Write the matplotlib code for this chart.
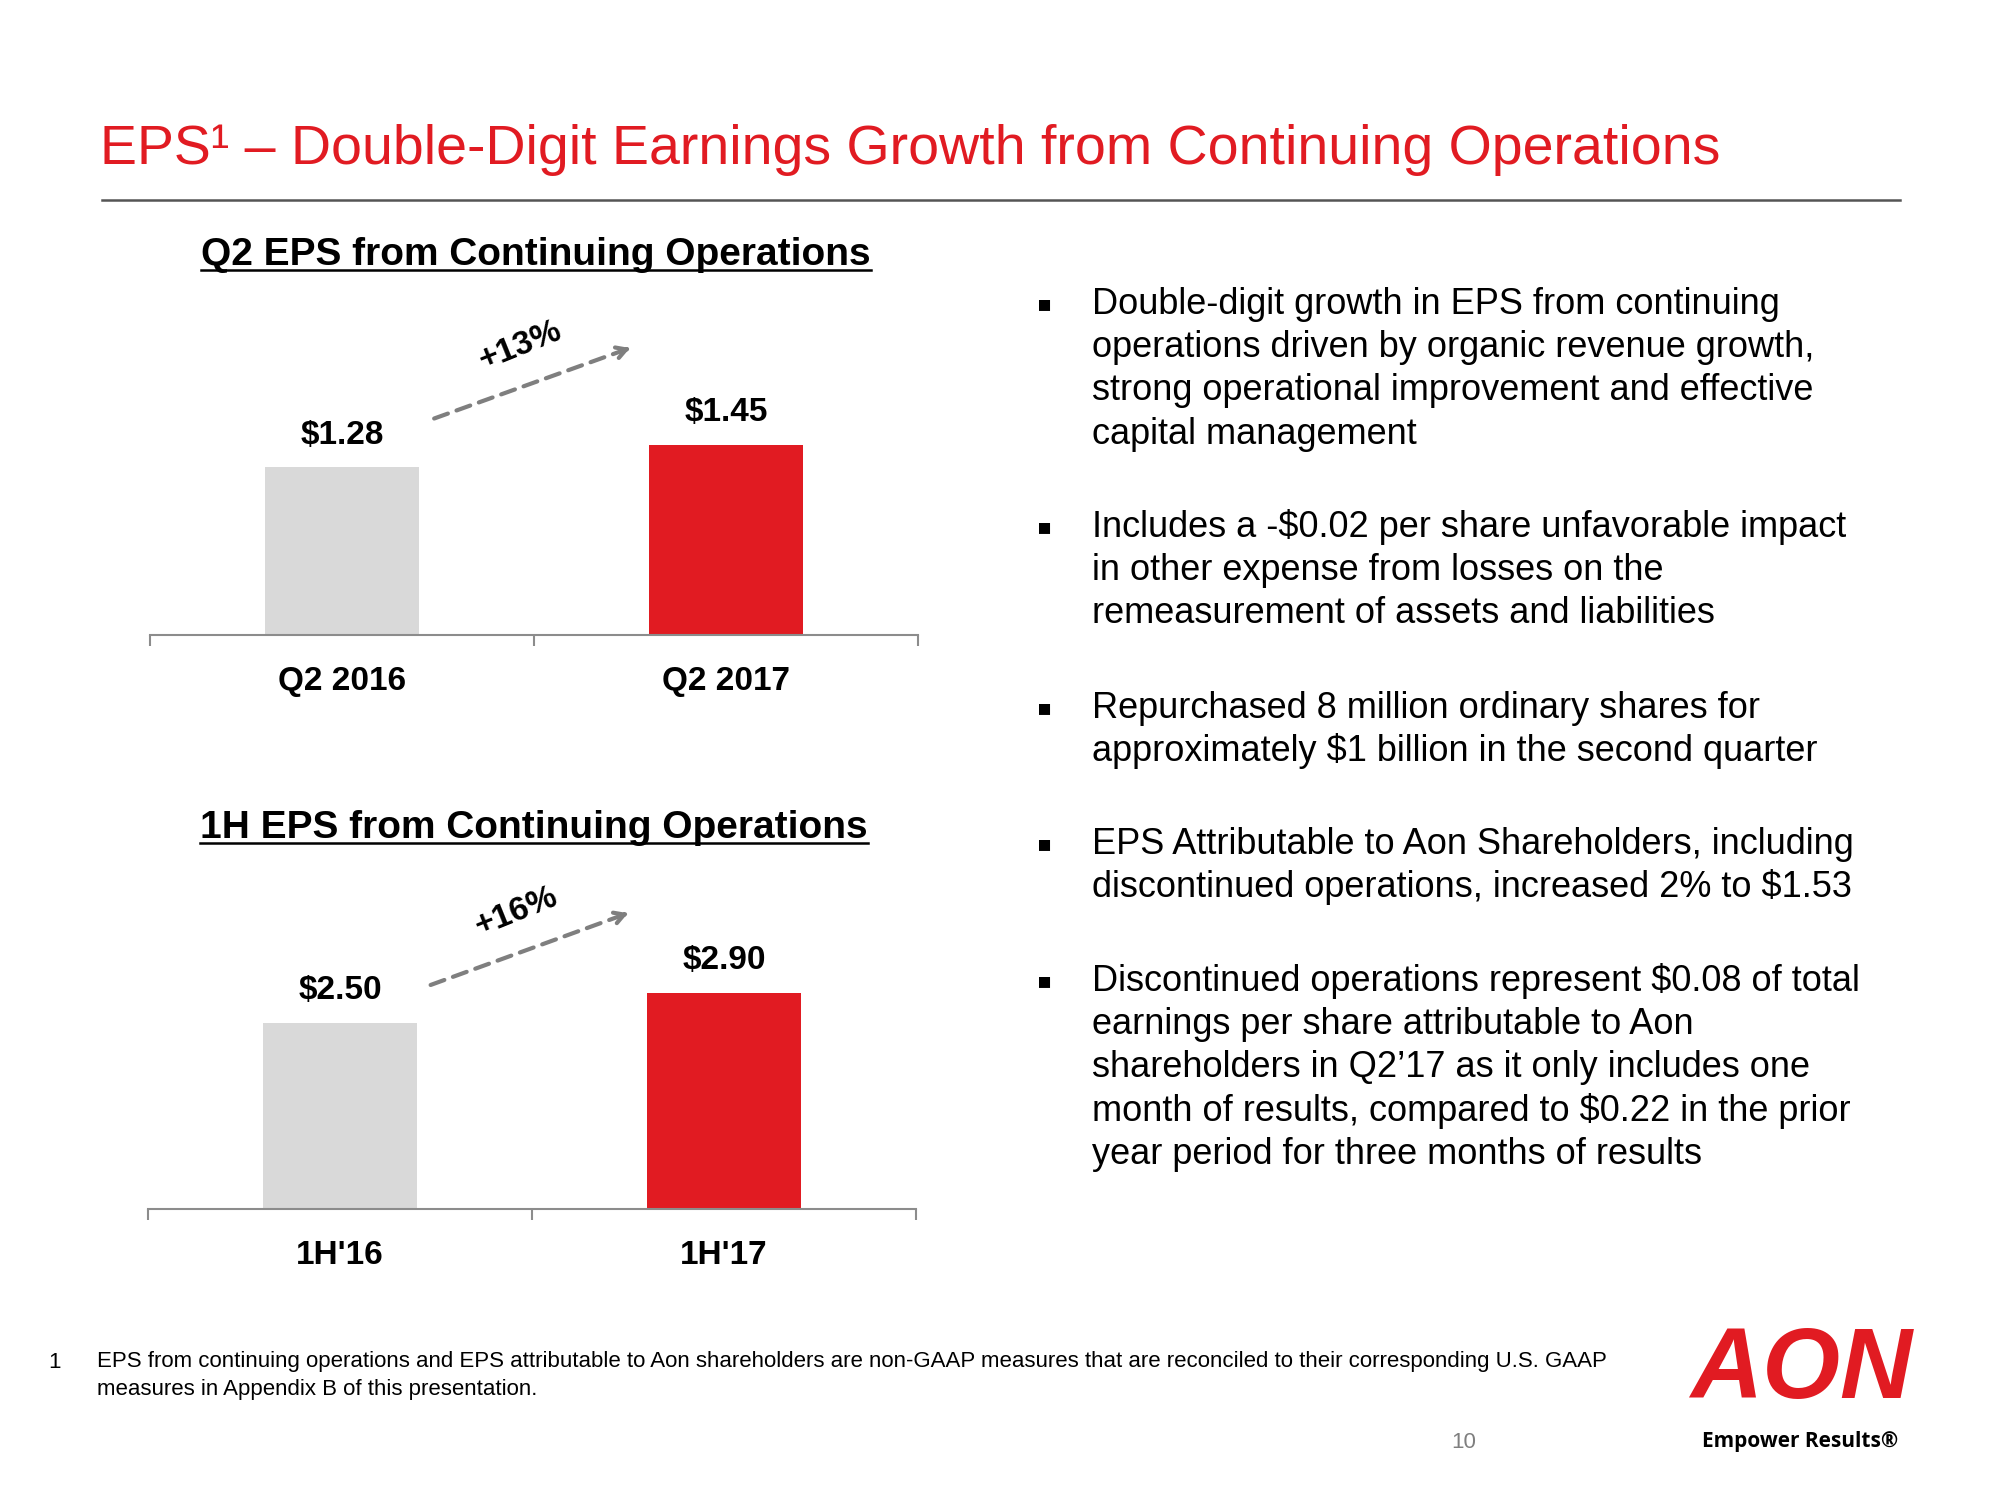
import matplotlib
matplotlib.use("Agg")
import matplotlib.pyplot as plt
from matplotlib.lines import Line2D

plt.rcParams['font.family'] = ['Liberation Sans', 'DejaVu Sans']

RED = "#E11B22"
GREY_BAR = "#D9D9D9"
AXIS_GREY = "#8C8C8C"

# data
q2_labels = ["Q2 2016", "Q2 2017"]
q2_eps = [1.28, 1.45]
q2_growth = "+13%"

h1_labels = ["1H'16", "1H'17"]
h1_eps = [2.50, 2.90]
h1_growth = "+16%"

bullets = [
    ["Double-digit growth in EPS from continuing",
     "operations driven by organic revenue growth,",
     "strong operational improvement and effective",
     "capital management"],
    ["Includes a -$0.02 per share unfavorable impact",
     "in other expense from losses on the",
     "remeasurement of assets and liabilities"],
    ["Repurchased 8 million ordinary shares for",
     "approximately $1 billion in the second quarter"],
    ["EPS Attributable to Aon Shareholders, including",
     "discontinued operations, increased 2% to $1.53"],
    ["Discontinued operations represent $0.08 of total",
     "earnings per share attributable to Aon",
     "shareholders in Q2\u201917 as it only includes one",
     "month of results, compared to $0.22 in the prior",
     "year period for three months of results"],
]

W, H = 2000, 1500
fig = plt.figure(figsize=(20, 15), dpi=100)


def fx(x):
    return x / W


def fy(y):
    return 1 - y / H


# title + rule
fig.text(fx(100), fy(150), "EPS\u00b9 \u2013 Double-Digit Earnings Growth from Continuing Operations",
         color=RED, fontsize=40, va="center", ha="left")
fig.add_artist(Line2D([fx(102), fx(1900)], [fy(200), fy(200)], color="#555555", lw=1.8))


def bar_panel(left_px, axis_y_px, ymax, labels, vals, growth, title, title_y, arrow):
    ax = fig.add_axes([fx(left_px), fy(axis_y_px), 768 / W, 328 / H])
    x = range(len(vals))
    ax.bar(x, vals, width=0.4, color=[GREY_BAR, RED])
    ax.set_xlim(-0.5, 1.5)
    ax.set_ylim(0, ymax)
    for s in ["top", "right", "left"]:
        ax.spines[s].set_visible(False)
    ax.spines["bottom"].set_color(AXIS_GREY)
    ax.spines["bottom"].set_linewidth(1.5)
    ax.set_yticks([])
    ax.set_xticks(list(x))
    ax.set_xticklabels(labels, fontsize=24, fontweight="bold")
    ax.tick_params(axis="x", which="major", length=0, pad=22)
    ax.set_xticks([-0.5, 0.5, 1.5], minor=True)
    ax.tick_params(axis="x", which="minor", length=8, width=1.5, color=AXIS_GREY)
    for xi, v in zip(x, vals):
        ax.annotate("$%.2f" % v, (xi, v), xytext=(0, 23), textcoords="offset points",
                    ha="center", va="center", fontsize=24, fontweight="bold")
    (x0, y0), (x1, y1), (tx, ty) = arrow
    ax.annotate("", xy=(x1, y1), xytext=(x0, y0), xycoords="axes fraction",
                arrowprops=dict(arrowstyle="-", color="#7F7F7F", lw=3,
                                linestyle=(0, (3.5, 2.2)), shrinkA=0, shrinkB=0))
    dx, dy = (x1 - x0) * 0.02, (y1 - y0) * 0.02
    ax.annotate("", xy=(x1, y1), xytext=(x1 - dx, y1 - dy), xycoords="axes fraction",
                arrowprops=dict(arrowstyle="->,head_length=0.7,head_width=0.4", color="#7F7F7F",
                                lw=3, shrinkA=0, shrinkB=0))
    ax.text(tx, ty, growth, transform=ax.transAxes, rotation=22, ha="center", va="center",
            fontsize=24, fontweight="bold")
    # underlined panel title
    t = fig.text(fx(left_px + 386), fy(title_y), title, ha="center", va="baseline",
                 fontsize=28, fontweight="bold")
    return ax, t


ax1, t1 = bar_panel(150, 635, 2.5, q2_labels, q2_eps, q2_growth,
                    "Q2 EPS from Continuing Operations", 265,
                    ((0.37, 0.66), (0.625, 0.875), (0.482, 0.88)))
ax2, t2 = bar_panel(148, 1209, 4.4, h1_labels, h1_eps, h1_growth,
                    "1H EPS from Continuing Operations", 838,
                    ((0.368, 0.683), (0.625, 0.902), (0.48, 0.905)))

fig.canvas.draw()
r = fig.canvas.get_renderer()
for t, base in [(t1, 265), (t2, 838)]:
    bb = t.get_window_extent(renderer=r)
    fig.add_artist(Line2D([bb.x0 / W, bb.x1 / W], [fy(base + 5), fy(base + 5)],
                          color="black", lw=1.8))

# bullets on the right
para_y = [304, 527, 708, 844, 981]
line_gap = 43.4
for y0, lines in zip(para_y, bullets):
    fig.text(fx(1037), fy(y0), "\u25aa", fontsize=16, va="center", ha="left",
             family=["DejaVu Sans"])
    for i, ln in enumerate(lines):
        fig.text(fx(1092), fy(y0 + i * line_gap), ln, fontsize=26, va="center", ha="left")

# footnote
fig.text(fx(48), fy(1362), "1", fontsize=16, va="center")
fig.text(fx(97), fy(1362), "EPS from continuing operations and EPS attributable to Aon shareholders are "
         "non-GAAP measures that are reconciled to their corresponding U.S. GAAP",
         fontsize=16, va="center")
fig.text(fx(97), fy(1390), "measures in Appendix B of this presentation.", fontsize=16, va="center")

# page number
fig.text(fx(1464), fy(1442), "10", fontsize=16, color="#7F7F7F", ha="center", va="center")

# logo
fig.text(fx(1801), fy(1372), "AON", fontsize=72, fontweight="bold", fontstyle="italic",
         color=RED, ha="center", va="center")
fig.text(fx(1800), fy(1442), "Empower Results\u00ae", fontsize=15, fontweight="bold",
         ha="center", va="center", family=["Open Sans", "DejaVu Sans"])

fig.savefig("out.png", dpi=100)
